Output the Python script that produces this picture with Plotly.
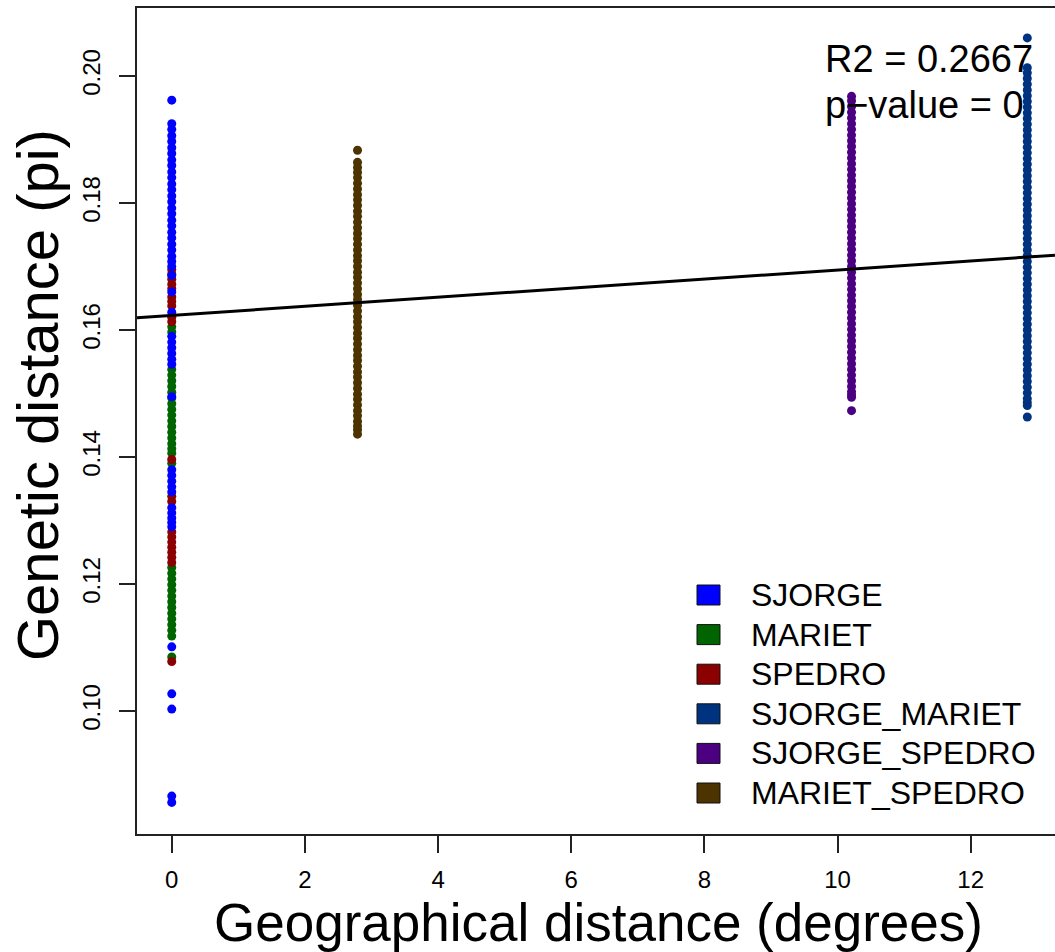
import plotly.graph_objects as go

# ---------------- data ----------------
groups = ["SJORGE", "MARIET", "SPEDRO", "SJORGE_MARIET", "SJORGE_SPEDRO", "MARIET_SPEDRO"]
colors = ["#0000FF", "#006400", "#8B0000", "#00337F", "#4B0082", "#4C3300"]

# geographical distance of each comparison (degrees)
x_sjorge = 0.0
x_mariet = 0.0
x_spedro = 0.0
x_sjorge_mariet = 12.85
x_sjorge_spedro = 10.21
x_mariet_spedro = 2.79

# genetic distances (pi)
sjorge = [0.1962,
          0.1925, 0.1916, 0.1906, 0.1897, 0.1887, 0.1878, 0.1868, 0.1859, 0.1849, 0.1840,
          0.1830, 0.1821, 0.1811, 0.1802, 0.1792, 0.1783, 0.1773, 0.1764, 0.1754, 0.1745,
          0.1735, 0.1726, 0.1716, 0.1708, 0.1700,
          0.1686, 0.1660, 0.1628,
          0.1590, 0.1581, 0.1572, 0.1563, 0.1554, 0.1546,
          0.1495,
          0.1380, 0.1371, 0.1362, 0.1353, 0.1345,
          0.1320, 0.1312, 0.1304, 0.1297, 0.1290,
          0.1101, 0.1027, 0.1003, 0.0866, 0.0856]
mariet = [0.1605, 0.1597,
          0.1538, 0.1529, 0.1520, 0.1511, 0.1502, 0.1493, 0.1484, 0.1475, 0.1466, 0.1457,
          0.1448, 0.1439, 0.1430, 0.1421, 0.1413, 0.1406,
          0.1390,
          0.1226, 0.1217, 0.1208, 0.1199, 0.1190, 0.1181, 0.1172, 0.1163, 0.1154, 0.1145,
          0.1136, 0.1127, 0.1118,
          0.1085]
spedro = [0.1695, 0.1688, 0.1680, 0.1672, 0.1665, 0.1652, 0.1645, 0.1638, 0.1620, 0.1613,
          0.1396,
          0.1338, 0.1330,
          0.1282, 0.1274, 0.1266, 0.1258, 0.1250, 0.1242, 0.1234,
          0.1078]
sjorge_mariet = [0.2060,
                 0.2013, 0.2005, 0.1996, 0.1987, 0.1978, 0.1969, 0.1960, 0.1951, 0.1942, 0.1933,
                 0.1924, 0.1915, 0.1906, 0.1897, 0.1888, 0.1879, 0.1870, 0.1861, 0.1852, 0.1843,
                 0.1834, 0.1825, 0.1816, 0.1807, 0.1798, 0.1789, 0.1780, 0.1771, 0.1762, 0.1753,
                 0.1744, 0.1735, 0.1726, 0.1717, 0.1708, 0.1699, 0.1690, 0.1681, 0.1672, 0.1663,
                 0.1654, 0.1645, 0.1636, 0.1627, 0.1618, 0.1609, 0.1600, 0.1591, 0.1582, 0.1573,
                 0.1564, 0.1555, 0.1546, 0.1537, 0.1528, 0.1519, 0.1510, 0.1501, 0.1492, 0.1486,
                 0.1481, 0.1463]
sjorge_spedro = [0.1968, 0.1961, 0.1952, 0.1943, 0.1934, 0.1925, 0.1916, 0.1907, 0.1898, 0.1889,
                 0.1880, 0.1871, 0.1862, 0.1853, 0.1844, 0.1835, 0.1826, 0.1817, 0.1808, 0.1799,
                 0.1790, 0.1781, 0.1772, 0.1763, 0.1754, 0.1745, 0.1736, 0.1727, 0.1718, 0.1709,
                 0.1700, 0.1691, 0.1682, 0.1673, 0.1664, 0.1655, 0.1646, 0.1637, 0.1628, 0.1619,
                 0.1610, 0.1601, 0.1592, 0.1583, 0.1574, 0.1565, 0.1556, 0.1547, 0.1538, 0.1529,
                 0.1520, 0.1511, 0.1503, 0.1498, 0.1494, 0.1473]
mariet_spedro = [0.1883,
                 0.1864, 0.1856, 0.1848, 0.1840, 0.1831, 0.1822, 0.1813, 0.1805, 0.1796, 0.1787,
                 0.1779, 0.1770, 0.1761, 0.1752, 0.1744, 0.1735, 0.1726, 0.1717, 0.1709, 0.1700,
                 0.1691, 0.1683, 0.1674, 0.1665, 0.1656, 0.1648, 0.1639, 0.1630, 0.1621, 0.1613,
                 0.1604, 0.1595, 0.1587, 0.1578, 0.1569, 0.1560, 0.1552, 0.1543, 0.1534, 0.1526,
                 0.1517, 0.1508, 0.1499, 0.1491, 0.1482, 0.1473, 0.1465, 0.1456, 0.1449, 0.1443,
                 0.1436]

# regression line
reg_intercept = 0.1623
reg_slope = 0.000715
r2_text = "R2 = 0.2667"
p_text = "p\u2212value = 0"

x_ticks = [0, 2, 4, 6, 8, 10, 12]
y_ticks = [0.10, 0.12, 0.14, 0.16, 0.18, 0.20]
y_tick_labels = ["0.10", "0.12", "0.14", "0.16", "0.18", "0.20"]

# ---------------- layout geometry ----------------
W, H = 1055, 952
ML, MR, MT, MB = 137, 0, 8, 118
PW, PH = W - ML - MR, H - MT - MB
X_RANGE = [-0.522, 13.266]
Y_RANGE = [0.08063, 0.21071]
FONT = "Liberation Sans, Arial, Helvetica, sans-serif"


def px(xp):
    return (xp - ML) / PW


def py(yp):
    return (H - MB - yp) / PH


fig = go.Figure()

series = [
    ("MARIET", x_mariet, mariet),
    ("SPEDRO", x_spedro, spedro),
    ("SJORGE", x_sjorge, sjorge),
    ("MARIET_SPEDRO", x_mariet_spedro, mariet_spedro),
    ("SJORGE_SPEDRO", x_sjorge_spedro, sjorge_spedro),
    ("SJORGE_MARIET", x_sjorge_mariet, sjorge_mariet),
]
for name, xv, yv in series:
    fig.add_trace(go.Scatter(
        x=[xv] * len(yv), y=yv, mode="markers", name=name, showlegend=False,
        marker=dict(size=9, color=colors[groups.index(name)], line=dict(width=0)),
        hoverinfo="x+y+name"))

# regression line across the whole plot region
lx = [X_RANGE[0], X_RANGE[1]]
ly = [reg_intercept + reg_slope * v for v in lx]
fig.add_trace(go.Scatter(x=lx, y=ly, mode="lines", showlegend=False,
                         line=dict(color="black", width=3), hoverinfo="skip"))

annotations = [
    dict(text=r2_text, x=px(823), y=py(59), xref="paper", yref="paper",
         xanchor="left", yanchor="middle", showarrow=False,
         font=dict(size=38, color="black", family=FONT)),
    dict(text=p_text, x=px(823), y=py(105), xref="paper", yref="paper",
         xanchor="left", yanchor="middle", showarrow=False,
         font=dict(size=38, color="black", family=FONT)),
    dict(text="Geographical distance (degrees)", x=px(598), y=py(922),
         xref="paper", yref="paper", xanchor="center", yanchor="middle",
         showarrow=False, font=dict(size=53, color="black", family=FONT)),
    dict(text="Genetic distance (pi)", x=px(37), y=py(395),
         xref="paper", yref="paper", xanchor="center", yanchor="middle",
         textangle=-90, showarrow=False,
         font=dict(size=58, color="black", family=FONT)),
]

shapes = []
legend_y0 = 595
legend_dy = 39.6
for i, (g, c) in enumerate(zip(groups, colors)):
    cy = legend_y0 + i * legend_dy
    shapes.append(dict(type="rect", xref="paper", yref="paper",
                       x0=px(697), x1=px(720), y0=py(cy + 10), y1=py(cy - 10),
                       fillcolor=c, line=dict(color="#111111", width=1)))
    annotations.append(dict(text=g, x=px(749), y=py(cy), xref="paper", yref="paper",
                            xanchor="left", yanchor="middle", showarrow=False,
                            font=dict(size=32, color="black", family=FONT)))

fig.update_layout(
    width=W, height=H,
    margin=dict(l=ML, r=MR, t=MT, b=MB, pad=0),
    paper_bgcolor="white", plot_bgcolor="white",
    font=dict(family=FONT, color="black"),
    showlegend=False,
    annotations=annotations,
    shapes=shapes,
    xaxis=dict(range=X_RANGE, tickvals=x_ticks, ticktext=[str(v) for v in x_ticks],
               showgrid=False, zeroline=False, showline=True, mirror=True,
               linecolor="#222222", linewidth=1.5,
               ticks="outside", ticklen=17, tickwidth=1.5, tickcolor="#222222",
               tickfont=dict(size=24, family=FONT, color="black"),
               ticklabelstandoff=6),
    yaxis=dict(range=Y_RANGE, tickvals=y_ticks, ticktext=y_tick_labels,
               showgrid=False, zeroline=False, showline=True, mirror=False,
               linecolor="#222222", linewidth=1.5,
               ticks="outside", ticklen=16, tickwidth=1.5, tickcolor="#222222",
               tickangle=-90,
               tickfont=dict(size=24, family=FONT, color="black"),
               ticklabelstandoff=10),
)

fig.write_html("out.html")
